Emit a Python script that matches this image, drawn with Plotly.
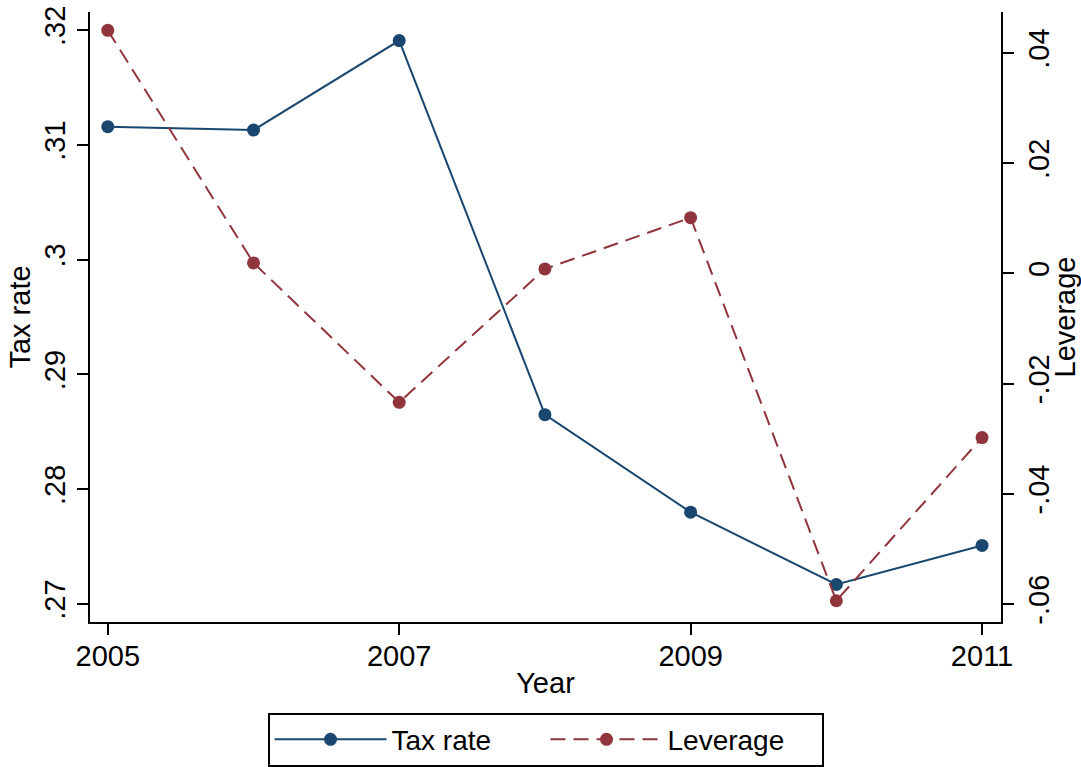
import plotly.graph_objects as go

years = [2005, 2006, 2007, 2008, 2009, 2010, 2011]
tax_rate = [0.3116, 0.3113, 0.3191, 0.2865, 0.2780, 0.2717, 0.2751]
leverage = [0.0441, 0.0019, -0.0234, 0.0008, 0.0101, -0.0594, -0.0298]

x_ticks = [2005, 2007, 2009, 2011]
tax_ticks = [0.27, 0.28, 0.29, 0.30, 0.31, 0.32]
tax_tick_text = [".27", ".28", ".29", ".3", ".31", ".32"]
lev_ticks = [-0.06, -0.04, -0.02, 0.0, 0.02, 0.04]
lev_tick_text = ["-.06", "-.04", "-.02", "0", ".02", ".04"]

BLUE = "#1a476f"
RED = "#90353b"
FONT = "Arial, Liberation Sans, sans-serif"
FS = 29

fig = go.Figure()
fig.add_trace(go.Scatter(
    x=years, y=tax_rate, name="Tax rate", mode="lines+markers",
    line=dict(color=BLUE, width=2),
    marker=dict(color=BLUE, size=13, symbol="circle"),
    yaxis="y"))
fig.add_trace(go.Scatter(
    x=years, y=leverage, name="Leverage", mode="lines+markers",
    line=dict(color=RED, width=2, dash="15px,8px"),
    marker=dict(color=RED, size=13, symbol="circle"),
    yaxis="y2"))

axis_common = dict(showline=True, linecolor="black", linewidth=2,
                   ticks="outside", ticklen=11, tickwidth=2, tickcolor="black",
                   showgrid=False, zeroline=False, automargin=False,
                   tickfont=dict(family=FONT, size=FS, color="black"))

fig.update_layout(
    width=1081, height=767,
    margin=dict(l=90, r=80, t=12, b=145, autoexpand=False),
    paper_bgcolor="white", plot_bgcolor="white",
    font=dict(family=FONT, size=FS, color="black"),
    xaxis=dict(range=[2004.878, 2011.13], tickvals=x_ticks,
               ticktext=[str(v) for v in x_ticks], ticklabelstandoff=-4,
               title=dict(text="Year", font=dict(family=FONT, size=FS), standoff=2),
               **axis_common),
    yaxis=dict(range=[0.26843, 0.32159], tickvals=tax_ticks, ticktext=tax_tick_text,
               tickangle=-90,
               title=dict(text="Tax rate", font=dict(family=FONT, size=FS), standoff=0),
               **axis_common),
    yaxis2=dict(range=[-0.06326, 0.04743], tickvals=lev_ticks, ticktext=lev_tick_text,
                tickangle=-90, overlaying="y", side="right",
                title=dict(text="Leverage", font=dict(family=FONT, size=FS), standoff=0),
                **axis_common),
    legend=dict(orientation="h", x=0.5, xanchor="center", y=-0.1486, yanchor="top",
                bordercolor="black", borderwidth=2, bgcolor="white",
                font=dict(family=FONT, size=28, color="black"),
                itemwidth=112, entrywidth=149, tracegroupgap=0),
    showlegend=True,
)

fig.write_html("out.html")
